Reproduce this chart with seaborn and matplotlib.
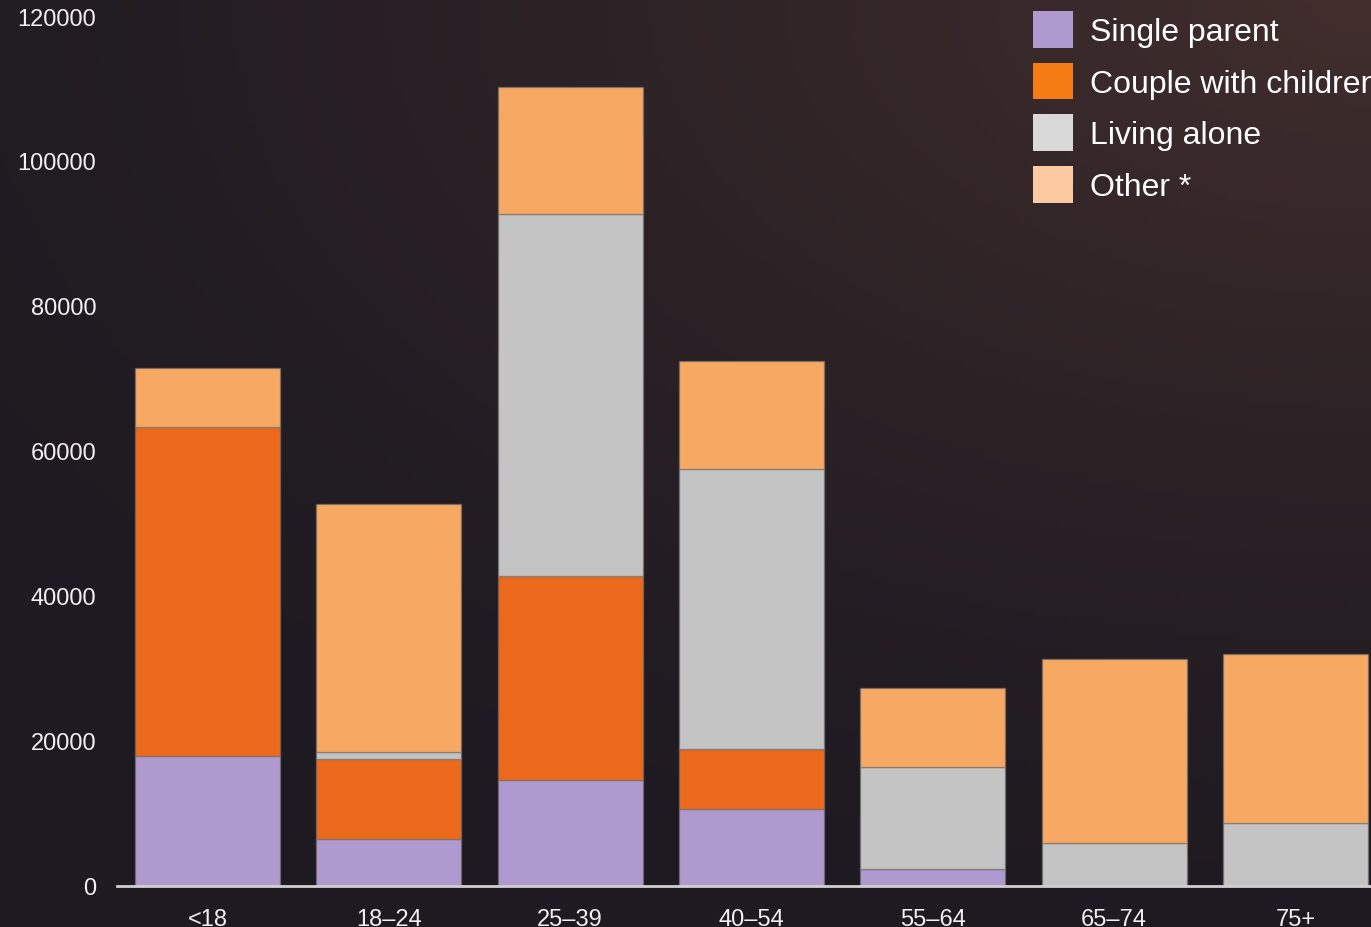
import numpy as np
import pandas as pd
import matplotlib
matplotlib.use("Agg")
import matplotlib.pyplot as plt
from matplotlib.patches import Patch
import seaborn as sns

categories = ["<18", "18–24", "25–39", "40–54", "55–64", "65–74", "75+"]
single_parent = [18000, 6500, 14600, 10600, 2300, 0, 0]
couple_children = [45300, 11000, 28200, 8300, 0, 0, 0]
living_alone = [0, 1000, 49900, 38600, 14100, 5900, 8700]
other = [8100, 34200, 17500, 14900, 10900, 25400, 23300]

series_names = ["Single parent", "Couple with children", "Living alone", "Other *"]
series_values = [single_parent, couple_children, living_alone, other]
bar_colors = ["#AE9ACE", "#EC681D", "#C4C4C4", "#F7A964"]
legend_colors = ["#AE9ACE", "#F57C14", "#D9D9D9", "#FCCAA0"]
y_ticks = [0, 20000, 40000, 60000, 80000, 100000, 120000]

sns.set_theme(style="white")
plt.rcParams["font.family"] = ["Liberation Sans", "DejaVu Sans"]

W, H = 1371, 928
fig = plt.figure(figsize=(W / 100, H / 100), dpi=100)

# background gradient (brightest toward the top right)
bg = fig.add_axes([0, 0, 1, 1], zorder=-10)
yy, xx = np.mgrid[0:1:200j, 0:1:300j]
d = np.clip(1 - np.sqrt(((1 - xx) * 1.0) ** 2 + ((1 - yy) * 1.2) ** 2) / 1.3, 0, 1)
c0 = np.array([0x1d, 0x1a, 0x21]) / 255
c1 = np.array([0x42, 0x2e, 0x2d]) / 255
img = c0[None, None, :] + (c1 - c0)[None, None, :] * (d[..., None] ** 1.5)
bg.imshow(img, extent=[0, 1, 0, 1], origin="lower", aspect="auto")
bg.set_axis_off()

left = 117 / W
right = 1386 / W
bottom = (H - 887) / H
top = (H - 17) / H
ax = fig.add_axes([left, bottom, right - left, top - bottom])
ax.set_facecolor("none")

cum = np.zeros(len(categories))
for name, vals, col in zip(series_names, series_values, bar_colors):
    df = pd.DataFrame({"cat": categories, "val": vals})
    sns.barplot(data=df, x="cat", y="val", order=categories, color=col,
                bottom=cum.copy(), width=0.8, ax=ax, errorbar=None,
                edgecolor=(0.45, 0.45, 0.45, 0.6), linewidth=1, saturation=1)
    cum = cum + np.array(vals)

ax.set_xlim(-0.5, 6.5)
ax.set_ylim(0, 120000)
ax.set_yticks(y_ticks)
ax.set_yticklabels([str(t) for t in y_ticks])
ax.set_xlabel("")
ax.set_ylabel("")
for s in ["top", "right", "left"]:
    ax.spines[s].set_visible(False)
ax.spines["bottom"].set_color("#d0d0d0")
ax.spines["bottom"].set_linewidth(2)
ax.tick_params(axis="both", length=0, labelsize=17, colors="#f0f0f0")
ax.tick_params(axis="y", pad=15)
ax.tick_params(axis="x", pad=16)

handles = [Patch(facecolor=c, edgecolor="none") for c in legend_colors]
leg = fig.legend(handles, series_names, loc="upper left",
                 bbox_to_anchor=(1033 / W, 1 - 12 / H), frameon=False,
                 fontsize=23, handlelength=1.25, handleheight=1.4,
                 handletextpad=0.55, labelspacing=0.46, borderpad=0,
                 borderaxespad=0)
for t in leg.get_texts():
    t.set_color("#ffffff")

fig.savefig("out.png", dpi=100)
